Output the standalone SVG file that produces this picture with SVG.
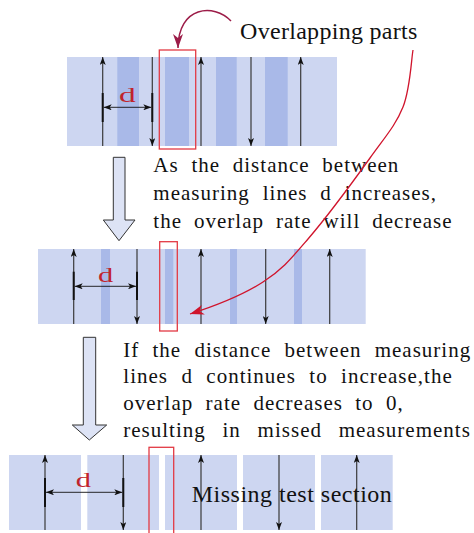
<svg xmlns="http://www.w3.org/2000/svg" width="474" height="533" viewBox="0 0 474 533">
<style>
.light{fill:#cdd6f1}
.dark{fill:#a9b9e8}
.ml{stroke:#3a3a3a;stroke-width:1.2;fill:none;marker-end:url(#ah)}
.tick{stroke:#111;stroke-width:2;fill:none}
.dim{stroke:#111;stroke-width:0.9;fill:none;marker-start:url(#ahs);marker-end:url(#ah)}
.box{fill:none;stroke:#e23a44;stroke-width:1.3}
.hollow{fill:#dde3f5;stroke:#333;stroke-width:1}
</style>
<defs>
<marker id="ah" viewBox="0 0 8 6" refX="8" refY="3" markerWidth="8" markerHeight="6" markerUnits="userSpaceOnUse" orient="auto"><path d="M0,0 L8,3 L0,6 L2,3 z" fill="#111"/></marker>
<marker id="ahs" viewBox="0 0 8 6" refX="0" refY="3" markerWidth="8" markerHeight="6" markerUnits="userSpaceOnUse" orient="auto"><path d="M8,0 L0,3 L8,6 L6,3 z" fill="#111"/></marker>
<marker id="redh" viewBox="0 0 14 10" refX="14" refY="5" markerWidth="14" markerHeight="10" markerUnits="userSpaceOnUse" orient="auto"><path d="M0,0 L14,5 L0,10 L4,5 z" fill="#d0142c"/></marker>
<marker id="maroonh" viewBox="0 0 14 10" refX="14" refY="5" markerWidth="14" markerHeight="10" markerUnits="userSpaceOnUse" orient="auto"><path d="M0,0 L14,5 L0,10 L4,5 z" fill="#9c1c48"/></marker>
</defs>

<g id="strip1">
<rect class="light" x="67" y="57" width="270" height="89"/>
<rect class="dark" x="117.3" y="57" width="21.7" height="89"/>
<rect class="dark" x="165" y="57" width="24" height="89"/>
<rect class="dark" x="216" y="57" width="20.7" height="89"/>
<rect class="dark" x="265" y="57" width="22.7" height="89"/>
<line class="ml" x1="102.7" y1="146" x2="102.7" y2="57"/>
<line class="ml" x1="152.3" y1="57" x2="152.3" y2="146"/>
<line class="ml" x1="201" y1="146" x2="201" y2="57"/>
<line class="ml" x1="251" y1="57" x2="251" y2="146"/>
<line class="ml" x1="300.7" y1="146" x2="300.7" y2="57"/>
<line class="tick" x1="102.7" y1="93" x2="102.7" y2="122"/>
<line class="tick" x1="152.3" y1="93" x2="152.3" y2="122"/>
<line class="dim" x1="103.7" y1="107.3" x2="151.3" y2="107.3"/>
<text transform="translate(119,101.7) scale(1.6,1)" font-family="Liberation Serif" font-size="21" fill="#c0242c">d</text>
<rect class="box" x="159.3" y="50" width="36.4" height="99"/>
</g>

<g id="strip2">
<rect class="light" x="38" y="249" width="327.7" height="75"/>
<rect class="dark" x="101" y="249" width="9" height="75"/>
<rect class="dark" x="165" y="249" width="8.3" height="75"/>
<rect class="dark" x="230" y="249" width="7" height="75"/>
<rect class="dark" x="294" y="249" width="8" height="75"/>
<line class="ml" x1="73.7" y1="324" x2="73.7" y2="249"/>
<line class="ml" x1="137" y1="249" x2="137" y2="324"/>
<line class="ml" x1="201" y1="324" x2="201" y2="249"/>
<line class="ml" x1="265.7" y1="249" x2="265.7" y2="324"/>
<line class="ml" x1="329.7" y1="324" x2="329.7" y2="249"/>
<line class="tick" x1="73.7" y1="271.7" x2="73.7" y2="300"/>
<line class="tick" x1="137" y1="271.7" x2="137" y2="300"/>
<line class="dim" x1="74.7" y1="286.3" x2="136" y2="286.3"/>
<text transform="translate(98,281.7) scale(1.45,1)" font-family="Liberation Serif" font-size="21" fill="#c0242c">d</text>
<rect class="box" x="159.7" y="241.7" width="17.6" height="89.3"/>
</g>

<g id="strip3">
<rect class="light" x="9" y="455" width="72" height="75"/>
<rect class="light" x="87.3" y="455" width="71.7" height="75"/>
<rect class="light" x="165" y="455" width="72" height="75"/>
<rect class="light" x="243" y="455" width="72" height="75"/>
<rect class="light" x="321" y="455" width="71.7" height="75"/>
<line class="ml" x1="45" y1="530" x2="45" y2="455"/>
<line class="ml" x1="123.3" y1="455" x2="123.3" y2="530"/>
<line class="ml" x1="201" y1="530" x2="201" y2="455"/>
<line class="ml" x1="279" y1="455" x2="279" y2="530"/>
<line class="ml" x1="356.7" y1="530" x2="356.7" y2="455"/>
<line class="tick" x1="45" y1="478" x2="45" y2="507"/>
<line class="tick" x1="123.3" y1="478" x2="123.3" y2="507"/>
<line class="dim" x1="46" y1="492.3" x2="122.3" y2="492.3"/>
<text transform="translate(75.7,487.3) scale(1.45,1)" font-family="Liberation Serif" font-size="21" fill="#c0242c">d</text>
<rect class="box" x="149" y="447.3" width="24.7" height="90"/>
<text x="191.7" y="501.7" font-family="Liberation Serif" font-size="24" letter-spacing="0.5" fill="#111">Missing test section</text>
</g>

<g id="arrow1"><path class="hollow" d="M113.3,157.3 H125 V220 H135 L119,240.7 L103.3,220 H113.3 Z"/></g>
<g id="arrow2"><path class="hollow" d="M83.3,337.3 H95.7 V425 H106.7 L89.3,440 L72.3,425 H83.3 Z"/></g>

<g id="label-overlap"><text x="240" y="39" font-family="Liberation Serif" font-size="24" letter-spacing="0.3" fill="#111">Overlapping parts</text></g>

<g id="text1" font-family="Liberation Serif" font-size="21" fill="#111" letter-spacing="1">
<text x="153.3" y="171.7" word-spacing="6.5">As the distance between</text>
<text x="153.3" y="200" word-spacing="6.7">measuring lines d increases,</text>
<text x="153.3" y="228.3" word-spacing="5.8">the overlap rate will decrease</text>
</g>

<g id="text2" font-family="Liberation Serif" font-size="21" fill="#111" letter-spacing="1">
<text x="123.3" y="356.7" word-spacing="7">If the distance between measuring</text>
<text x="123.3" y="383.3" word-spacing="7.2">lines d continues to increase,the</text>
<text x="123.3" y="410" word-spacing="6.1">overlap rate decreases to 0,</text>
<text x="123.3" y="436.6" word-spacing="10.5">resulting in missed measurements</text>
</g>

<g id="connectors">
<path d="M231,21 C214,3 178,6 178,48" fill="none" stroke="#9c1c48" stroke-width="1.5" marker-end="url(#maroonh)"/>
<path d="M413,50 C411.3,59.5 410.2,89 403,107 C395.8,125 385.8,136 370,158 C354.2,180 325.8,218.3 308,239 C290.2,259.7 282.3,269.5 263,282 C243.7,294.5 215,306 190,314" fill="none" stroke="#d0142c" stroke-width="1.3" marker-end="url(#redh)"/>
</g>
</svg>
